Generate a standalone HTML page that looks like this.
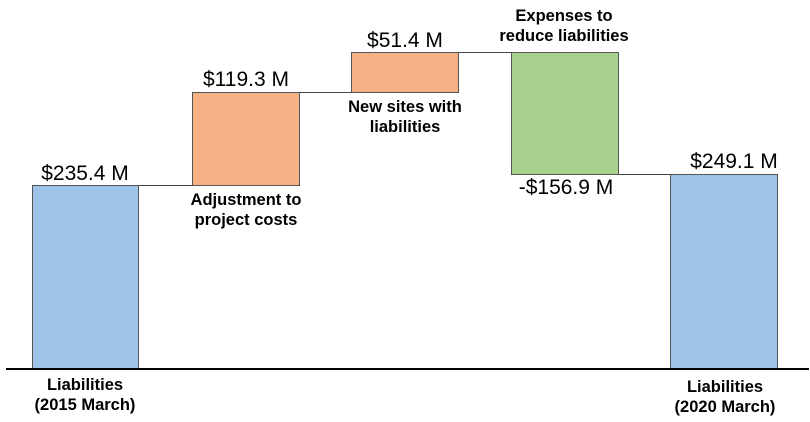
<!DOCTYPE html>
<html><head><style>
body{margin:0;background:#fff;width:810px;height:422px;overflow:hidden;position:relative;font-family:"Liberation Sans",Arial,sans-serif}
.b{position:absolute;border:1px solid #555;box-sizing:border-box}
.l{position:absolute;height:1px;background:#444}
.v{position:absolute;font-size:21px;color:#000;text-align:center;width:180px;line-height:24px}
.c{position:absolute;font-size:16.5px;font-weight:bold;text-align:center;width:200px;line-height:20px}
</style></head><body>
<div class="b" style="left:32px;top:185px;width:107px;height:184px;background:#9dc3e6"></div>
<div class="b" style="left:192px;top:92px;width:108px;height:94px;background:#f4b183"></div>
<div class="b" style="left:351px;top:52px;width:108px;height:41px;background:#f4b183"></div>
<div class="b" style="left:511px;top:52px;width:108px;height:123px;background:#a9d18e"></div>
<div class="b" style="left:670px;top:174px;width:108px;height:195px;background:#9dc3e6"></div>
<div class="l" style="left:139px;top:185px;width:53px"></div>
<div class="l" style="left:300px;top:92px;width:51px"></div>
<div class="l" style="left:459px;top:52px;width:52px"></div>
<div class="l" style="left:619px;top:174px;width:51px"></div>
<div style="position:absolute;left:6px;top:368px;width:803px;height:2px;background:#000"></div>
<div class="v" style="left:-5px;top:162px">$235.4 M</div>
<div class="v" style="left:156px;top:68px">$119.3 M</div>
<div class="v" style="left:315px;top:29px">$51.4 M</div>
<div class="v" style="left:476px;top:176px">-$156.9 M</div>
<div class="v" style="left:644px;top:150px">$249.1 M</div>
<div class="c" style="left:146px;top:190px">Adjustment to<br>project costs</div>
<div class="c" style="left:305px;top:97px">New sites with<br>liabilities</div>
<div class="c" style="left:464px;top:6px">Expenses to<br>reduce liabilities</div>
<div class="c" style="left:-15px;top:375px">Liabilities<br>(2015 March)</div>
<div class="c" style="left:625px;top:377px">Liabilities<br>(2020 March)</div>
</body></html>
